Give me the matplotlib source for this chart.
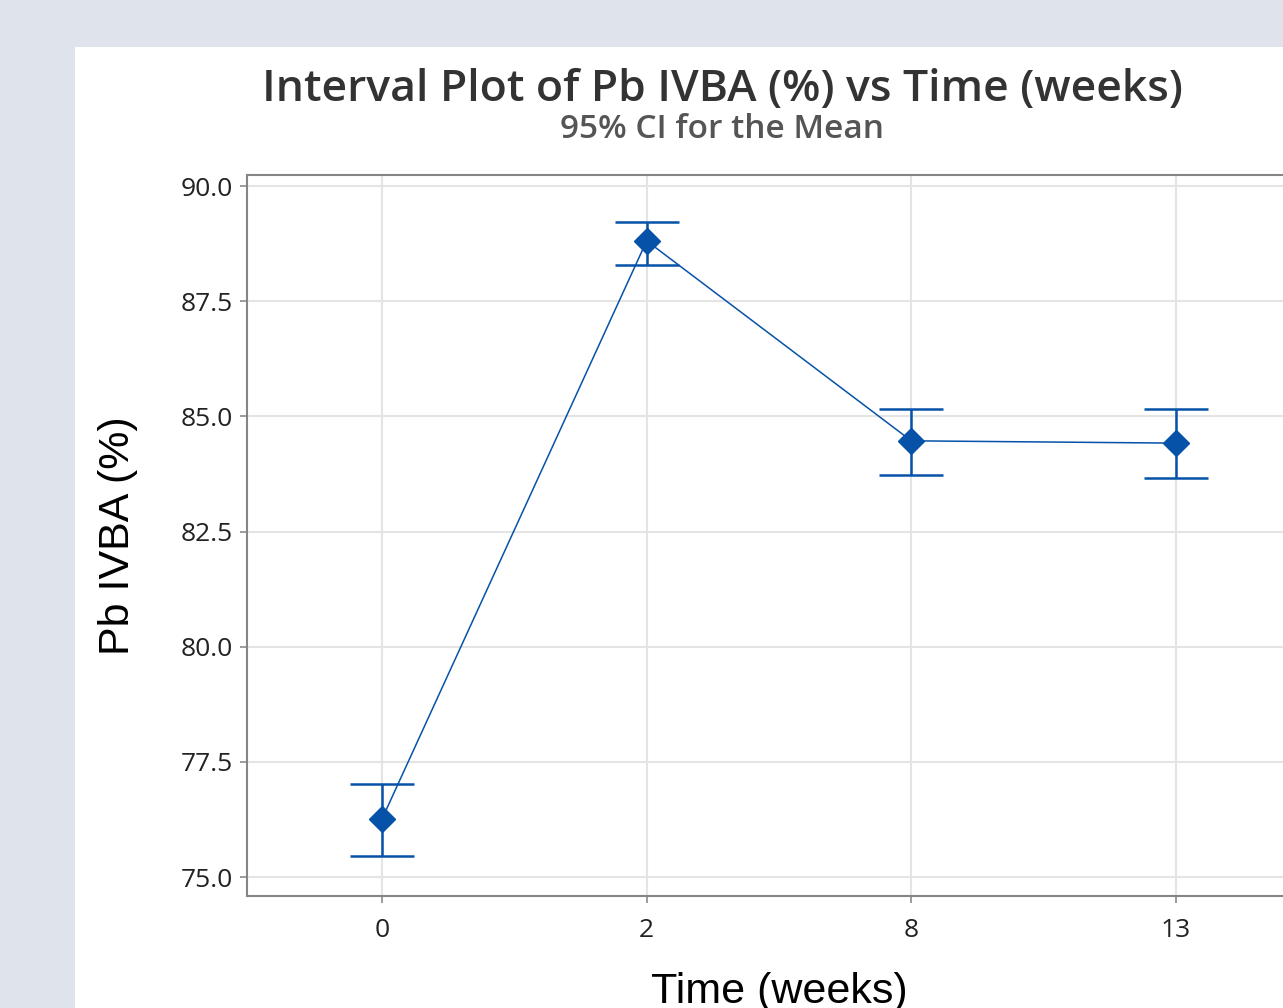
import matplotlib.pyplot as plt
import numpy as np
from matplotlib import patches

# interval plot data
weeks = ["0", "2", "8", "13"]
means = [76.26, 88.81, 84.47, 84.42]
ci_low = [75.46, 88.29, 83.73, 83.66]
ci_high = [77.02, 89.22, 85.16, 85.16]
y_ticks = [75.0, 77.5, 80.0, 82.5, 85.0, 87.5, 90.0]

W, H = 1283, 1008
fig = plt.figure(figsize=(W / 100, H / 100), dpi=100)
fig.patch.set_facecolor("#dfe3ec")

# white panel behind the chart
panel = patches.Rectangle((75 / W, 0), 1 - 75 / W, 1 - 47 / H,
                          transform=fig.transFigure, facecolor="white",
                          edgecolor="none", zorder=-10)
fig.add_artist(panel)

# axes box runs past the right edge, like the cropped original
ax = fig.add_axes([247 / W, 1 - 896 / H, (1311 - 247) / W, (896 - 175) / H])
ax.set_facecolor("white")

blue = "#0652a8"
x = np.arange(len(weeks))
means = np.array(means)
err = [means - np.array(ci_low), np.array(ci_high) - means]

ax.plot(x, means, color=blue, lw=1.1, zorder=3)
ax.errorbar(x, means, yerr=err, fmt="none", ecolor=blue, elinewidth=1.8,
            capsize=23, capthick=1.8, zorder=4)
ax.plot(x, means, linestyle="none", marker="D", markersize=13,
        color=blue, zorder=5)

ax.set_xlim(-0.51, 3.51)
ax.set_ylim(74.59, 90.24)
ax.set_xticks(x)
ax.set_xticklabels(weeks)
ax.set_yticks(y_ticks)
ax.set_yticklabels(["%.1f" % v for v in y_ticks])

ax.grid(True, color="#e4e4e4", lw=1.5)
ax.set_axisbelow(True)
for side in ["left", "top", "bottom"]:
    ax.spines[side].set_color("#858585")
    ax.spines[side].set_linewidth(1.5)
ax.spines["right"].set_visible(False)

ax.tick_params(axis="both", colors="#8a8a8a", labelcolor="#222222",
               length=5, width=1.2, labelsize=19)
ax.tick_params(axis="x", pad=11)
ax.tick_params(axis="y", pad=5)
for lbl in ax.get_xticklabels() + ax.get_yticklabels():
    lbl.set_family("Open Sans")
    lbl.set_fontweight("medium")

ax.set_xlabel("Time (weeks)", family="Liberation Sans", fontsize=31,
              color="black", labelpad=21)
ax.set_ylabel("Pb IVBA (%)", family="Liberation Sans", fontsize=31,
              color="black", labelpad=31)

fig.text(722 / W, 1 - 89 / H, "Interval Plot of Pb IVBA (%) vs Time (weeks)",
         ha="center", va="center", family="Open Sans", fontweight="semibold",
         fontsize=32, color="#333333")
fig.text(722 / W, 1 - 130 / H, "95% CI for the Mean", ha="center",
         va="center", family="Open Sans", fontweight="semibold",
         fontsize=24, color="#555555")

fig.savefig("out.png", dpi=100, facecolor=fig.get_facecolor())
